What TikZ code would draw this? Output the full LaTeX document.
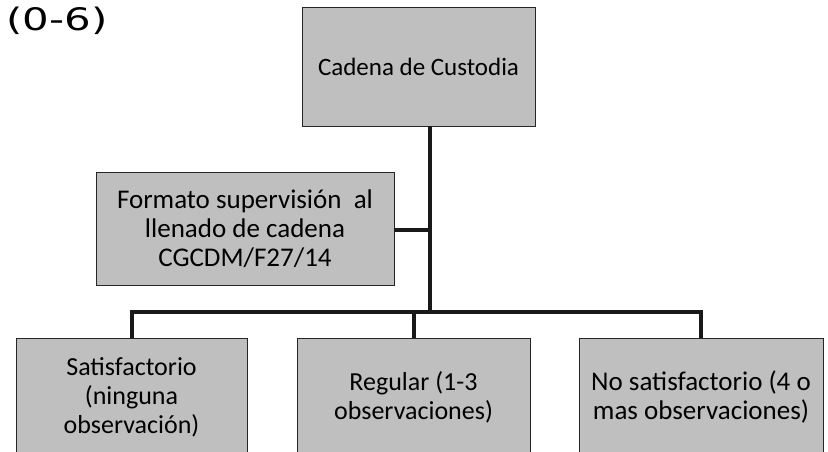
\documentclass[tikz,border=0pt]{standalone}
\usepackage{fontspec}
\setmainfont{Carlito}
\newfontfamily\handfont{DejaVu Sans}
\tikzset{
  box/.style={draw=black!85, line width=0.9pt, fill=black!25, inner sep=0pt, align=center, font=\fontsize{26}{29}\selectfont},
  conn/.style={line width=4pt, draw=black!90},
}
\begin{document}
\begin{tikzpicture}[x=1pt,y=-1pt]
\useasboundingbox (0,0) rectangle (828,452);
\node[anchor=center, font=\handfont\fontsize{31}{31}\selectfont, xscale=1.35] (lbl) at (57,21) {(0-6)};
\node[box, font=\fontsize{25}{29}\selectfont, minimum width=233pt, minimum height=119pt] (top) at (418.5,66.5) {Cadena de Custodia};
\node[box, font=\fontsize{27}{29}\selectfont, minimum width=298pt, minimum height=113pt] (mid) at (245,228.5) {Formato supervisión\ \ al\\llenado de cadena\\CGCDM/F27/14};
\node[box, minimum width=231pt, minimum height=118pt] (b1) at (131.5,397) {Satisfactorio\\(ninguna\\observación)};
\node[box, minimum width=233pt, minimum height=118pt] (b2) at (413.5,397) {Regular (1-3\\observaciones)};
\node[box, font=\fontsize{27}{29}\selectfont, minimum width=244pt, minimum height=118pt] (b3) at (701,397) {No satisfactorio (4 o\\mas observaciones)};
\coordinate (j1) at (430,312);
\coordinate (j2) at (430,230);
\draw[conn] (top.south -| j1) -- (j1);
\draw[conn] (mid.east |- j2) -- (j2);
\draw[conn, line join=miter] (b1.north) |- (j1);
\draw[conn, line join=miter] (b3.north) |- (j1);
\draw[conn] (b2.north) -- (b2.north |- j1);
\end{tikzpicture}
\end{document}
